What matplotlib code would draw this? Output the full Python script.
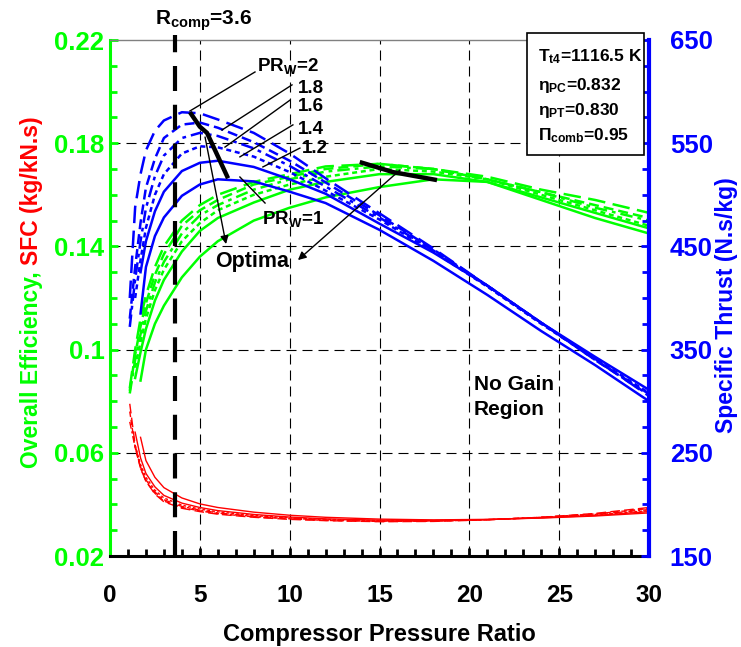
import numpy as np
import matplotlib
matplotlib.use('Agg')
import matplotlib.pyplot as plt
from matplotlib.ticker import MultipleLocator, FuncFormatter
from matplotlib.patches import Rectangle

plt.rcParams['font.family'] = ['Liberation Sans', 'DejaVu Sans']
plt.rcParams['font.weight'] = 'bold'
plt.rcParams['mathtext.default'] = 'regular'

GREEN = '#00ff00'
BLUE = '#0000ff'
RED = '#ff0000'
nan = np.nan

# compressor pressure ratio
pr = [1.1, 1.4, 1.7, 2, 2.5, 3, 4, 5, 6, 8, 10, 12, 15, 18, 21, 24, 27, 30]
pr_w = ['1', '1.2', '1.4', '1.6', '1.8', '2']

# overall efficiency (left axis)
eff_1_0 = [nan, nan, 0.088, 0.100, 0.110, 0.117, 0.128, 0.136, 0.142, 0.150, 0.155, 0.159, 0.163, 0.166, 0.165, 0.158, 0.151, 0.145]
eff_1_2 = [nan, 0.089, 0.099, 0.108, 0.119, 0.127, 0.138, 0.146, 0.151, 0.157, 0.162, 0.165, 0.168, 0.168, 0.165, 0.159, 0.153, 0.147]
eff_1_4 = [nan, 0.093, 0.103, 0.112, 0.123, 0.131, 0.142, 0.149, 0.154, 0.160, 0.164, 0.167, 0.170, 0.169, 0.166, 0.160, 0.154, 0.148]
eff_1_6 = [0.083, 0.096, 0.106, 0.115, 0.126, 0.134, 0.145, 0.152, 0.156, 0.162, 0.166, 0.169, 0.171, 0.170, 0.166, 0.161, 0.155, 0.150]
eff_1_8 = [0.084, 0.098, 0.109, 0.118, 0.129, 0.137, 0.148, 0.154, 0.158, 0.164, 0.167, 0.170, 0.172, 0.170, 0.166, 0.161, 0.156, 0.151]
eff_2_0 = [0.085, 0.100, 0.112, 0.121, 0.132, 0.140, 0.150, 0.156, 0.160, 0.165, 0.168, 0.171, 0.172, 0.170, 0.167, 0.162, 0.158, 0.153]

# SFC (left axis)
sfc_1_0 = [nan, nan, 0.066, 0.057, 0.0505, 0.0465, 0.0425, 0.0402, 0.0388, 0.0370, 0.0358, 0.0350, 0.0343, 0.0340, 0.0342, 0.0347, 0.0355, 0.0367]
sfc_1_2 = [nan, 0.068, 0.058, 0.052, 0.0468, 0.0435, 0.0405, 0.0388, 0.0376, 0.0361, 0.0351, 0.0344, 0.0339, 0.0338, 0.0341, 0.0348, 0.0357, 0.0372]
sfc_1_4 = [nan, 0.063, 0.0555, 0.0505, 0.0455, 0.0425, 0.0397, 0.0382, 0.0371, 0.0357, 0.0348, 0.0342, 0.0337, 0.0337, 0.0341, 0.0349, 0.0359, 0.0376]
sfc_1_6 = [0.072, 0.062, 0.0545, 0.0495, 0.0448, 0.0418, 0.0392, 0.0378, 0.0367, 0.0354, 0.0346, 0.0340, 0.0335, 0.0336, 0.0341, 0.0350, 0.0361, 0.0380]
sfc_1_8 = [0.076, 0.062, 0.054, 0.049, 0.0443, 0.0413, 0.0388, 0.0375, 0.0364, 0.0352, 0.0344, 0.0338, 0.0334, 0.0335, 0.0341, 0.0350, 0.0363, 0.0384]
sfc_2_0 = [0.079, 0.063, 0.054, 0.049, 0.044, 0.041, 0.0385, 0.0372, 0.0362, 0.0350, 0.0342, 0.0337, 0.0333, 0.0334, 0.0340, 0.0350, 0.0365, 0.0388]

# specific thrust (right axis)
thr_1_0 = [nan, nan, 385, 430, 460, 478, 499, 510, 515, 513, 503, 492, 466, 436, 403, 368, 335, 300]
thr_1_2 = [nan, nan, 425, 455, 484, 503, 523, 531, 533, 527, 515, 501, 472, 444, 412, 376, 343, 311]
thr_1_4 = [nan, 400, 437, 468, 500, 520, 540, 547, 546, 537, 522, 504, 476, 445, 411, 375, 341, 308]
thr_1_6 = [372, 418, 455, 487, 518, 538, 555, 560, 557, 545, 528, 508, 478, 446, 412, 376, 340, 307]
thr_1_8 = [380, 430, 473, 507, 535, 555, 568, 570, 565, 551, 533, 512, 480, 447, 412, 376, 340, 306]
thr_2_0 = [400, 488, 520, 543, 562, 572, 580, 579, 573, 560, 540, 516, 482, 448, 412, 376, 341, 305]

effs = [eff_1_0, eff_1_2, eff_1_4, eff_1_6, eff_1_8, eff_2_0]
sfcs = [sfc_1_0, sfc_1_2, sfc_1_4, sfc_1_6, sfc_1_8, sfc_2_0]
thrs = [thr_1_0, thr_1_2, thr_1_4, thr_1_6, thr_1_8, thr_2_0]
styles = ['-', '-', (0, (2, 1.5)), (0, (5, 2, 1.5, 2)), (0, (4, 2)), (0, (7, 3))]

# optimum loci
opt_thr_x = [4.45, 5.0, 5.4, 6.57]
opt_thr_y = [580, 566, 560, 516]
opt_eff_x = [13.9, 15.75, 18.2]
opt_eff_y = [0.1727, 0.1688, 0.1657]

fig = plt.figure(figsize=(7.41, 6.47), dpi=100)
ax = fig.add_axes([110/741, 91/647, 539/741, 516/647])
ax2 = ax.twinx()

for e, s, ls in zip(effs, sfcs, styles):
    ax.plot(pr, e, color=GREEN, lw=1.8, ls=ls)
    ax.plot(pr, s, color=RED, lw=1.0, ls=ls)
for t, ls in zip(thrs, styles):
    ax2.plot(pr, t, color=BLUE, lw=1.8, ls=ls)

# grid
for gx in [5, 10, 15, 20, 25]:
    ax.axvline(gx, color='black', lw=0.8, ls=(0, (9, 5.4)), zorder=0)
for gy in [0.06, 0.1, 0.14, 0.18]:
    ax.axhline(gy, color='black', lw=0.8, ls=(0, (9, 5.4)), zorder=0)

ax.set_xlim(0, 30)
ax.set_ylim(0.02, 0.22)
ax2.set_ylim(150, 650)
ax.set_yticks([0.02, 0.06, 0.1, 0.14, 0.18, 0.22])
ax.yaxis.set_minor_locator(MultipleLocator(0.01))
ax.yaxis.set_major_formatter(FuncFormatter(lambda v, p: f'{v:g}'))
ax.xaxis.set_major_locator(MultipleLocator(5))
ax.xaxis.set_minor_locator(MultipleLocator(1))
ax2.set_yticks([150, 250, 350, 450, 550, 650])
ax2.yaxis.set_minor_locator(MultipleLocator(25))

ax.tick_params(axis='y', which='both', direction='in', colors=GREEN, labelsize=18.5, width=2, pad=4)
ax.tick_params(axis='y', which='major', length=6)
ax.tick_params(axis='y', which='minor', length=5)
ax.tick_params(axis='x', which='both', direction='in', color='black', labelsize=17.5, width=2, pad=20)
ax.tick_params(axis='x', which='major', length=6)
ax.tick_params(axis='x', which='minor', length=5)
ax2.tick_params(axis='y', which='both', direction='in', colors=BLUE, labelsize=18.5, width=2, pad=15)
ax2.tick_params(axis='y', which='major', length=6)
ax2.tick_params(axis='y', which='minor', length=5)

ax.spines['left'].set_color(GREEN)
ax.spines['left'].set_linewidth(2.2)
ax.spines['bottom'].set_linewidth(2.2)
ax.spines['top'].set_color('#808080')
ax.spines['top'].set_linewidth(1)
ax.spines['right'].set_visible(False)
for side in ['left', 'top', 'bottom']:
    ax2.spines[side].set_visible(False)
ax2.spines['right'].set_color(BLUE)
ax2.spines['right'].set_linewidth(3)

td = ax.transData

# R_comp line
ax2.plot([3.6, 3.6], [0.02, 0.222], transform=td, color='black', lw=3,
         ls=(0, (6, 3.3)), clip_on=False, zorder=6)
ax2.text(2.5, 0.2258, 'R$_{comp}$=3.6', transform=td, fontsize=15, va='baseline', ha='left')

# optima lines
ax2.plot(opt_thr_x, opt_thr_y, color='black', lw=3.2, zorder=6, solid_capstyle='butt')
ax2.plot(opt_eff_x, opt_eff_y, transform=td, color='black', lw=3.2, zorder=6, solid_capstyle='butt')

# PRw labels and leader lines
labels = [('PR$_W$=2', 8.18, 0.2081, (8.07, 0.2076), (4.45, 0.1925)),
          ('1.8', 10.46, 0.1996, (10.13, 0.2026), (6.23, 0.1851)),
          ('1.6', 10.46, 0.1925, (10.02, 0.1967), (6.40, 0.1785)),
          ('1.4', 10.46, 0.1835, (10.18, 0.1871), (7.23, 0.1747)),
          ('1.2', 10.68, 0.1763, (10.57, 0.1781), (8.51, 0.1708)),
          ('PR$_W$=1', 8.46, 0.1486, (8.63, 0.1568), (7.23, 0.1669))]
for txt, lx, ly, p0, p1 in labels:
    ax2.text(lx, ly, txt, transform=td, fontsize=13.5, va='baseline', ha='left', zorder=7)
    ax2.plot([p0[0], p1[0]], [p0[1], p1[1]], transform=td, color='black', lw=1, zorder=6)

ax2.text(5.84, 0.132, 'Optima', transform=td, fontsize=15.5, va='baseline', ha='left', zorder=7)
arrow = dict(arrowstyle='-|>', color='black', lw=1, mutation_scale=12, shrinkA=0, shrinkB=0)
ax2.annotate('', xy=(6.46, 0.1409), xytext=(5.29, 0.1824), xycoords=td, textcoords=td,
             arrowprops=arrow, zorder=7)
ax2.annotate('', xy=(10.46, 0.1347), xytext=(16.14, 0.1696), xycoords=td, textcoords=td,
             arrowprops=arrow, zorder=7)

ax2.text(20.26, 0.0843, 'No Gain', transform=td, fontsize=15, va='baseline', ha='left')
ax2.text(20.26, 0.0747, 'Region', transform=td, fontsize=15, va='baseline', ha='left')

# parameter box
ax2.add_patch(Rectangle((0.774, 0.777), 0.217, 0.2366, transform=ax2.transAxes,
                        facecolor='white', edgecolor='black', lw=1.2, clip_on=False, zorder=8))
box_lines = ['T$_{t4}$=1116.5 K', 'η$_{PC}$=0.832', 'η$_{PT}$=0.830', 'Π$_{comb}$=0.95']
box_y = [0.959, 0.903, 0.855, 0.806]
for txt, by in zip(box_lines, box_y):
    ax2.text(0.794, by, txt, transform=ax2.transAxes, fontsize=12.5, va='baseline',
             ha='left', zorder=9)

# axis labels
fig.text(379.5/741, 1 - 635/647, 'Compressor Pressure Ratio', fontsize=17, ha='center', va='center')
fig.text(727/741, 1 - 305/647, 'Specific Thrust (N.s/kg)', fontsize=16.5, color=BLUE,
         rotation=90, ha='center', va='center')
t1 = fig.text(38/741, 1 - 468/647, 'Overall Efficiency,', fontsize=16.5, color=GREEN,
              rotation=90, rotation_mode='anchor', ha='left', va='baseline')
fig.canvas.draw()
bb = t1.get_window_extent()
fig.text(38/741, (bb.y1 + 6)/fig.bbox.height, 'SFC (kg/kN.s)', fontsize=16.5, color=RED,
         rotation=90, rotation_mode='anchor', ha='left', va='baseline')

fig.savefig('out.png', dpi=100)
